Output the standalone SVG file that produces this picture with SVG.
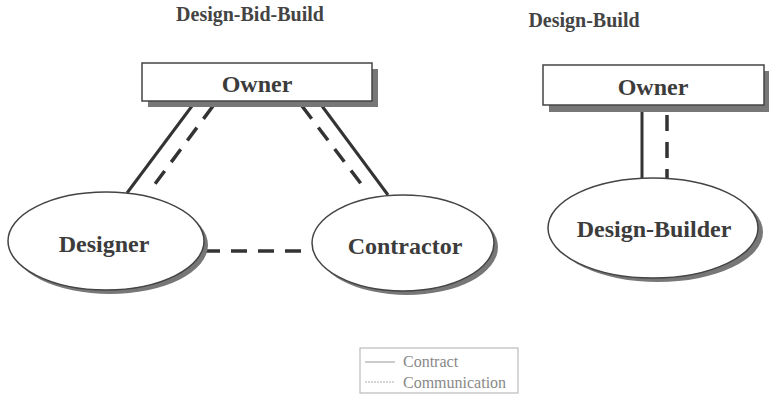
<svg xmlns="http://www.w3.org/2000/svg" width="769" height="397" viewBox="0 0 769 397">
  <defs>
    <style>
      .title { font-family: "Liberation Serif", "Times New Roman", serif; font-weight: bold; font-size: 20px; fill: #444; text-anchor: middle; }
      .label { font-family: "Liberation Serif", "Times New Roman", serif; font-weight: bold; font-size: 24px; fill: #3c3c3c; text-anchor: middle; }
      .legend-text { font-family: "Liberation Serif", "Times New Roman", serif; font-size: 16px; fill: #888; }
      .box { fill: #fff; stroke: #444; stroke-width: 1.5; }
      .shadow { fill: #777; }
      .ell { fill: #fff; stroke: #444; stroke-width: 1.5; }
      .contract { stroke: #333; stroke-width: 3; fill: none; }
      .comm { stroke: #333; stroke-width: 3.5; fill: none; stroke-dasharray: 16 11; }
    </style>
  </defs>
  <rect width="769" height="397" fill="#fff"/>

  <!-- titles -->
  <text class="title" x="250" y="21">Design-Bid-Build</text>
  <text class="title" x="584" y="27">Design-Build</text>

  <!-- connectors -->
  <g id="connectors">
    <line class="contract" x1="192" y1="106" x2="127" y2="193"/>
    <line class="comm" x1="213" y1="106" x2="152" y2="188"/>
    <line class="comm" x1="302" y1="106" x2="365" y2="189"/>
    <line class="contract" x1="322" y1="106" x2="388" y2="195"/>
    <line class="comm" x1="204" y1="251" x2="311" y2="251"/>
    <line class="contract" x1="642" y1="110" x2="642" y2="179"/>
    <line class="comm" x1="667" y1="115" x2="667" y2="179" stroke-dasharray="14 9"/>
  </g>

  <!-- Design-Bid-Build owner -->
  <g id="owner-dbb">
    <rect class="shadow" x="148" y="69" width="230" height="38"/>
    <rect class="box" x="142" y="63" width="230" height="38"/>
    <text class="label" x="257" y="92">Owner</text>
  </g>

  <!-- Designer -->
  <g id="designer">
    <ellipse class="shadow" cx="110" cy="245" rx="98" ry="49"/>
    <ellipse class="ell" cx="106" cy="241" rx="98" ry="49"/>
    <text class="label" x="104" y="252">Designer</text>
  </g>

  <!-- Contractor -->
  <g id="contractor">
    <ellipse class="shadow" cx="407" cy="247" rx="91" ry="48"/>
    <ellipse class="ell" cx="403" cy="243" rx="91" ry="48"/>
    <text class="label" x="405" y="254">Contractor</text>
  </g>

  <!-- Design-Build owner -->
  <g id="owner-db">
    <rect class="shadow" x="549" y="71" width="221" height="41"/>
    <rect class="box" x="543" y="65" width="221" height="40"/>
    <text class="label" x="653" y="95">Owner</text>
  </g>

  <!-- Design-Builder -->
  <g id="design-builder">
    <ellipse class="shadow" cx="658" cy="232" rx="105" ry="50"/>
    <ellipse class="ell" cx="653" cy="228" rx="105" ry="50"/>
    <text class="label" x="654" y="237">Design-Builder</text>
  </g>

  <!-- legend -->
  <g id="legend">
    <rect x="360" y="348" width="158" height="45" fill="#fff" stroke="#bbb" stroke-width="1.2"/>
    <line x1="365" y1="362" x2="395" y2="362" stroke="#999" stroke-width="1"/>
    <line x1="365" y1="382" x2="395" y2="382" stroke="#aaa" stroke-width="1" stroke-dasharray="2 1"/>
    <text class="legend-text" x="403" y="367">Contract</text>
    <text class="legend-text" x="403" y="388">Communication</text>
  </g>
</svg>
